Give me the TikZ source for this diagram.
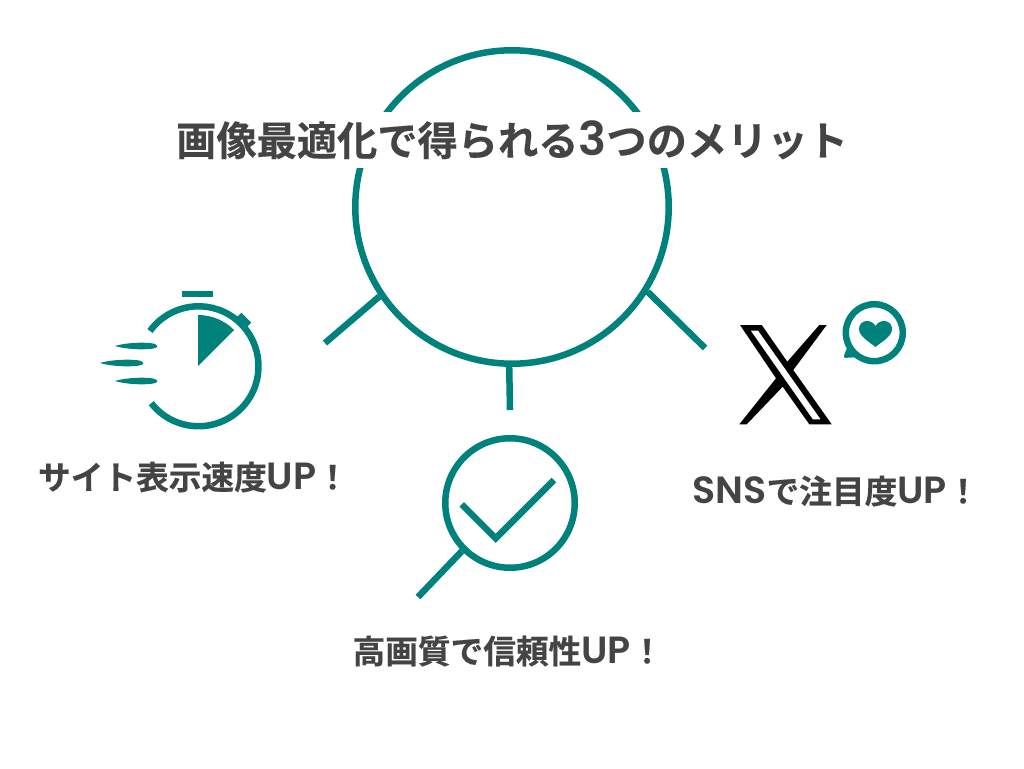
\documentclass[tikz,border=0pt]{standalone}
\usepackage{fontspec}
\setmainfont{Noto Sans CJK JP}[BoldFont={Noto Sans CJK JP Bold},BoldFeatures={FakeBold=0.4}]
\newfontfamily\latnfont{Poppins}[Scale=1.16,BoldFont={Poppins SemiBold}]
\usetikzlibrary{positioning}
\definecolor{tealmain}{HTML}{00827C}
\definecolor{textgray}{HTML}{444444}
\tikzset{
  tealline/.style={draw=tealmain,line width=0.13cm},
  titlelabel/.style={font=\bfseries\fontsize{22.9}{26}\selectfont,text=textgray,fill=white,inner xsep=0pt,inner ysep=0pt,minimum height=1.12cm},
  itemlabel/.style={font=\bfseries\fontsize{18.6}{22}\selectfont,text=textgray,inner sep=0pt},
  speedline/.style={fill=tealmain,draw=none},
}
\begin{document}
\begin{tikzpicture}[x=0.02cm,y=-0.02cm]
\useasboundingbox (0,0) rectangle (1024,768);
\fill[white] (0,0) rectangle (1024,768);
% main circle and spokes
\node[circle,tealline,minimum size=6.27cm,inner sep=0pt] (hub) at (512,207) {};
\coordinate (spokeL) at (325,343);
\coordinate (spokeB) at (510,410);
\coordinate (spokeR) at (705,348);
\draw[tealline] (hub.214) -- (spokeL);
\draw[tealline] (hub.269.3) -- (spokeB);
\draw[tealline] (hub.-32) -- (spokeR);
\node[titlelabel] (title) at (512,140) {画像最適化で得られる{\latnfont 3}つのメリット};
% stopwatch
\coordinate (watch) at (198,366);
\draw[tealline] (150,331) arc[start angle=144,end angle=-142,radius=1.2cm];
\fill[tealmain] (182,291) rectangle (213,297);
\fill[tealmain,rotate around={-45:(243.5,320.5)}] (236.5,316.5) rectangle (250.5,324.5);
\fill[tealmain] (watch) -- (198,315) arc[start angle=90,end angle=45,radius=1.02cm] -- cycle;
\fill[speedline] (115,346) .. controls (128,342) and (150,342) .. (155,344) .. controls (158,346) and (158,347) .. (155,348) .. controls (150,350) and (128,350) .. cycle;
\fill[speedline] (100,363) .. controls (113,359) and (136,359) .. (141,361) .. controls (144,363) and (144,364) .. (141,365) .. controls (136,367) and (113,367) .. cycle;
\fill[speedline] (115,381) .. controls (128,377) and (150,377) .. (155,379) .. controls (158,381) and (158,382) .. (155,383) .. controls (150,385) and (128,385) .. cycle;
\node[itemlabel] (speedtext) at (193.5,477) {サイト表示速度{\latnfont UP}！};
% magnifier
\node[circle,tealline,minimum size=2.59cm,inner sep=0pt] (lens) at (510,503) {};
\coordinate (handle) at (418,597);
\draw[tealline] (lens.225) -- (handle);
\draw[tealline] (461.7,504.3) -- (495.7,538.3) -- (554,480);
\node[itemlabel] (qualitytext) at (508,651) {高画質で信頼性{\latnfont UP}！};
% x logo and bubble
\fill[black,even odd rule] (740,325) -- (761.7,325) -- (787.3,361.7) -- (819.3,325) -- (826.7,325) -- (793.3,370) -- (831.7,424.3) -- (809.3,424.3) -- (782.7,386.7) -- (746.7,424.3) -- (739.3,424.3) -- (776,378.3) -- cycle
  (750.7,330.7) -- (758.3,330.7) -- (820.7,419.3) -- (812.7,419.3) -- cycle;
\node[circle,tealline,minimum size=1.14cm,inner sep=0pt] (bubble) at (874.3,332.7) {};
\fill[tealmain,rounded corners=1.5pt] (849,343) -- (843,358) -- (860,357) -- cycle;
\fill[tealmain] (875.5,347) .. controls (868,341) and (859,336) .. (859,329) .. controls (859,320) and (871,318) .. (875.5,326) .. controls (880,318) and (892,320) .. (892,329) .. controls (892,336) and (883,341) .. (875.5,347) -- cycle;
\node[itemlabel] (snstext) at (836,491) {{\latnfont SNS}で注目度{\latnfont UP}！};
\end{tikzpicture}
\end{document}
